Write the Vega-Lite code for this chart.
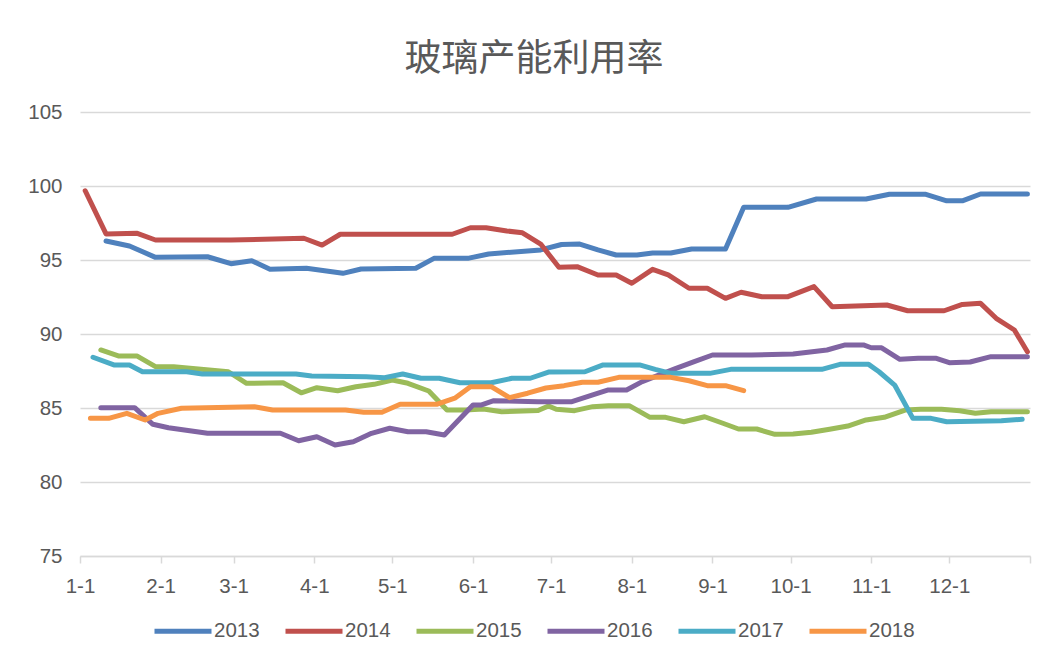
{
  "$schema": "https://vega.github.io/schema/vega-lite/v6.json",
  "width": 950,
  "height": 444,
  "autosize": "none",
  "padding": {"left": 80, "top": 112, "right": 23, "bottom": 107},
  "background": "white",
  "title": {
    "text": "玻璃产能利用率",
    "font": "Noto Sans CJK SC",
    "fontSize": 37,
    "fontWeight": "normal",
    "color": "#595959",
    "anchor": "middle",
    "dx": -21,
    "offset": 23
  },
  "config": {
    "view": {"stroke": null},
    "axis": {
      "labelFont": "Liberation Sans",
      "labelFontSize": 20.5,
      "labelColor": "#595959"
    },
    "legend": {
      "labelFont": "Liberation Sans",
      "labelFontSize": 20.5,
      "labelColor": "#595959"
    }
  },
  "data": {
    "values": [
      {"s":"2013","d":"2001/01/11","v":96.28},
      {"s":"2013","d":"2001/01/20","v":95.95},
      {"s":"2013","d":"2001/01/30","v":95.18},
      {"s":"2013","d":"2001/02/19","v":95.22},
      {"s":"2013","d":"2001/02/28","v":94.75},
      {"s":"2013","d":"2001/03/08","v":94.95},
      {"s":"2013","d":"2001/03/15","v":94.37},
      {"s":"2013","d":"2001/03/29","v":94.44},
      {"s":"2013","d":"2001/04/12","v":94.10},
      {"s":"2013","d":"2001/04/19","v":94.39},
      {"s":"2013","d":"2001/05/10","v":94.44},
      {"s":"2013","d":"2001/05/17","v":95.11},
      {"s":"2013","d":"2001/05/30","v":95.11},
      {"s":"2013","d":"2001/06/07","v":95.41},
      {"s":"2013","d":"2001/06/27","v":95.68},
      {"s":"2013","d":"2001/07/05","v":96.05},
      {"s":"2013","d":"2001/07/12","v":96.08},
      {"s":"2013","d":"2001/07/19","v":95.68},
      {"s":"2013","d":"2001/07/26","v":95.34},
      {"s":"2013","d":"2001/08/03","v":95.34},
      {"s":"2013","d":"2001/08/09","v":95.47},
      {"s":"2013","d":"2001/08/16","v":95.47},
      {"s":"2013","d":"2001/08/24","v":95.74},
      {"s":"2013","d":"2001/09/06","v":95.74},
      {"s":"2013","d":"2001/09/13","v":98.56},
      {"s":"2013","d":"2001/09/30","v":98.56},
      {"s":"2013","d":"2001/10/11","v":99.12},
      {"s":"2013","d":"2001/10/30","v":99.12},
      {"s":"2013","d":"2001/11/08","v":99.44},
      {"s":"2013","d":"2001/11/22","v":99.44},
      {"s":"2013","d":"2001/11/30","v":99.0},
      {"s":"2013","d":"2001/12/06","v":99.0},
      {"s":"2013","d":"2001/12/13","v":99.46},
      {"s":"2013","d":"2001/12/31","v":99.46},

      {"s":"2014","d":"2001/01/03","v":99.68},
      {"s":"2014","d":"2001/01/11","v":96.76},
      {"s":"2014","d":"2001/01/23","v":96.80},
      {"s":"2014","d":"2001/01/30","v":96.35},
      {"s":"2014","d":"2001/02/28","v":96.35},
      {"s":"2014","d":"2001/03/28","v":96.47},
      {"s":"2014","d":"2001/04/04","v":96.01},
      {"s":"2014","d":"2001/04/11","v":96.74},
      {"s":"2014","d":"2001/05/24","v":96.74},
      {"s":"2014","d":"2001/05/31","v":97.18},
      {"s":"2014","d":"2001/06/06","v":97.18},
      {"s":"2014","d":"2001/06/14","v":96.96},
      {"s":"2014","d":"2001/06/20","v":96.84},
      {"s":"2014","d":"2001/06/27","v":96.08},
      {"s":"2014","d":"2001/07/04","v":94.51},
      {"s":"2014","d":"2001/07/11","v":94.55},
      {"s":"2014","d":"2001/07/19","v":93.99},
      {"s":"2014","d":"2001/07/26","v":93.99},
      {"s":"2014","d":"2001/08/01","v":93.43},
      {"s":"2014","d":"2001/08/09","v":94.37},
      {"s":"2014","d":"2001/08/15","v":93.99},
      {"s":"2014","d":"2001/08/23","v":93.09},
      {"s":"2014","d":"2001/08/30","v":93.09},
      {"s":"2014","d":"2001/09/06","v":92.41},
      {"s":"2014","d":"2001/09/12","v":92.82},
      {"s":"2014","d":"2001/09/20","v":92.52},
      {"s":"2014","d":"2001/09/30","v":92.52},
      {"s":"2014","d":"2001/10/10","v":93.20},
      {"s":"2014","d":"2001/10/17","v":91.84},
      {"s":"2014","d":"2001/11/07","v":91.96},
      {"s":"2014","d":"2001/11/15","v":91.57},
      {"s":"2014","d":"2001/11/29","v":91.57},
      {"s":"2014","d":"2001/12/06","v":92.0},
      {"s":"2014","d":"2001/12/13","v":92.07},
      {"s":"2014","d":"2001/12/19","v":91.06},
      {"s":"2014","d":"2001/12/26","v":90.27},
      {"s":"2014","d":"2001/12/31","v":88.8},

      {"s":"2015","d":"2001/01/09","v":88.92},
      {"s":"2015","d":"2001/01/16","v":88.51},
      {"s":"2015","d":"2001/01/23","v":88.51},
      {"s":"2015","d":"2001/01/30","v":87.79},
      {"s":"2015","d":"2001/02/06","v":87.79},
      {"s":"2015","d":"2001/02/27","v":87.45},
      {"s":"2015","d":"2001/03/06","v":86.67},
      {"s":"2015","d":"2001/03/20","v":86.71},
      {"s":"2015","d":"2001/03/27","v":86.03},
      {"s":"2015","d":"2001/04/02","v":86.37},
      {"s":"2015","d":"2001/04/10","v":86.17},
      {"s":"2015","d":"2001/04/17","v":86.44},
      {"s":"2015","d":"2001/04/24","v":86.60},
      {"s":"2015","d":"2001/05/01","v":86.89},
      {"s":"2015","d":"2001/05/07","v":86.67},
      {"s":"2015","d":"2001/05/15","v":86.15},
      {"s":"2015","d":"2001/05/22","v":84.86},
      {"s":"2015","d":"2001/05/29","v":84.86},
      {"s":"2015","d":"2001/06/05","v":84.93},
      {"s":"2015","d":"2001/06/12","v":84.75},
      {"s":"2015","d":"2001/06/26","v":84.83},
      {"s":"2015","d":"2001/06/30","v":85.14},
      {"s":"2015","d":"2001/07/03","v":84.91},
      {"s":"2015","d":"2001/07/10","v":84.82},
      {"s":"2015","d":"2001/07/17","v":85.09},
      {"s":"2015","d":"2001/07/23","v":85.16},
      {"s":"2015","d":"2001/07/31","v":85.16},
      {"s":"2015","d":"2001/08/08","v":84.37},
      {"s":"2015","d":"2001/08/14","v":84.37},
      {"s":"2015","d":"2001/08/21","v":84.07},
      {"s":"2015","d":"2001/08/29","v":84.41},
      {"s":"2015","d":"2001/09/05","v":83.97},
      {"s":"2015","d":"2001/09/11","v":83.58},
      {"s":"2015","d":"2001/09/18","v":83.58},
      {"s":"2015","d":"2001/09/25","v":83.22},
      {"s":"2015","d":"2001/10/02","v":83.24},
      {"s":"2015","d":"2001/10/09","v":83.36},
      {"s":"2015","d":"2001/10/16","v":83.56},
      {"s":"2015","d":"2001/10/23","v":83.78},
      {"s":"2015","d":"2001/10/30","v":84.19},
      {"s":"2015","d":"2001/11/06","v":84.37},
      {"s":"2015","d":"2001/11/14","v":84.86},
      {"s":"2015","d":"2001/11/20","v":84.91},
      {"s":"2015","d":"2001/11/28","v":84.91},
      {"s":"2015","d":"2001/12/05","v":84.82},
      {"s":"2015","d":"2001/12/11","v":84.64},
      {"s":"2015","d":"2001/12/17","v":84.75},
      {"s":"2015","d":"2001/12/31","v":84.75},

      {"s":"2016","d":"2001/01/09","v":85.02},
      {"s":"2016","d":"2001/01/22","v":85.02},
      {"s":"2016","d":"2001/01/29","v":83.90},
      {"s":"2016","d":"2001/02/04","v":83.67},
      {"s":"2016","d":"2001/02/19","v":83.29},
      {"s":"2016","d":"2001/03/19","v":83.29},
      {"s":"2016","d":"2001/03/26","v":82.79},
      {"s":"2016","d":"2001/04/02","v":83.06},
      {"s":"2016","d":"2001/04/09","v":82.50},
      {"s":"2016","d":"2001/04/16","v":82.72},
      {"s":"2016","d":"2001/04/23","v":83.29},
      {"s":"2016","d":"2001/04/30","v":83.63},
      {"s":"2016","d":"2001/05/07","v":83.40},
      {"s":"2016","d":"2001/05/14","v":83.40},
      {"s":"2016","d":"2001/05/21","v":83.18},
      {"s":"2016","d":"2001/06/01","v":85.20},
      {"s":"2016","d":"2001/06/04","v":85.20},
      {"s":"2016","d":"2001/06/09","v":85.49},
      {"s":"2016","d":"2001/06/26","v":85.43},
      {"s":"2016","d":"2001/07/09","v":85.43},
      {"s":"2016","d":"2001/07/17","v":85.88},
      {"s":"2016","d":"2001/07/23","v":86.22},
      {"s":"2016","d":"2001/07/30","v":86.22},
      {"s":"2016","d":"2001/08/05","v":86.78},
      {"s":"2016","d":"2001/08/18","v":87.68},
      {"s":"2016","d":"2001/08/25","v":88.13},
      {"s":"2016","d":"2001/09/01","v":88.58},
      {"s":"2016","d":"2001/09/16","v":88.58},
      {"s":"2016","d":"2001/10/02","v":88.65},
      {"s":"2016","d":"2001/10/15","v":88.92},
      {"s":"2016","d":"2001/10/22","v":89.26},
      {"s":"2016","d":"2001/10/29","v":89.26},
      {"s":"2016","d":"2001/11/01","v":89.07},
      {"s":"2016","d":"2001/11/05","v":89.07},
      {"s":"2016","d":"2001/11/12","v":88.29},
      {"s":"2016","d":"2001/11/19","v":88.36},
      {"s":"2016","d":"2001/11/26","v":88.36},
      {"s":"2016","d":"2001/12/01","v":88.06},
      {"s":"2016","d":"2001/12/09","v":88.11},
      {"s":"2016","d":"2001/12/17","v":88.47},
      {"s":"2016","d":"2001/12/31","v":88.47},

      {"s":"2017","d":"2001/01/06","v":88.43},
      {"s":"2017","d":"2001/01/14","v":87.91},
      {"s":"2017","d":"2001/01/20","v":87.91},
      {"s":"2017","d":"2001/01/25","v":87.45},
      {"s":"2017","d":"2001/02/11","v":87.45},
      {"s":"2017","d":"2001/02/17","v":87.30},
      {"s":"2017","d":"2001/03/25","v":87.30},
      {"s":"2017","d":"2001/03/31","v":87.16},
      {"s":"2017","d":"2001/04/21","v":87.11},
      {"s":"2017","d":"2001/04/28","v":87.05},
      {"s":"2017","d":"2001/05/05","v":87.30},
      {"s":"2017","d":"2001/05/12","v":87.01},
      {"s":"2017","d":"2001/05/19","v":87.01},
      {"s":"2017","d":"2001/05/27","v":86.71},
      {"s":"2017","d":"2001/06/08","v":86.71},
      {"s":"2017","d":"2001/06/16","v":87.01},
      {"s":"2017","d":"2001/06/23","v":87.01},
      {"s":"2017","d":"2001/06/30","v":87.43},
      {"s":"2017","d":"2001/07/14","v":87.45},
      {"s":"2017","d":"2001/07/21","v":87.91},
      {"s":"2017","d":"2001/08/04","v":87.91},
      {"s":"2017","d":"2001/08/10","v":87.61},
      {"s":"2017","d":"2001/08/16","v":87.34},
      {"s":"2017","d":"2001/08/31","v":87.34},
      {"s":"2017","d":"2001/09/08","v":87.61},
      {"s":"2017","d":"2001/10/13","v":87.61},
      {"s":"2017","d":"2001/10/20","v":87.95},
      {"s":"2017","d":"2001/10/31","v":87.95},
      {"s":"2017","d":"2001/11/04","v":87.45},
      {"s":"2017","d":"2001/11/10","v":86.55},
      {"s":"2017","d":"2001/11/17","v":84.30},
      {"s":"2017","d":"2001/11/24","v":84.30},
      {"s":"2017","d":"2001/11/30","v":84.07},
      {"s":"2017","d":"2001/12/21","v":84.14},
      {"s":"2017","d":"2001/12/29","v":84.24},

      {"s":"2018","d":"2001/01/05","v":84.30},
      {"s":"2018","d":"2001/01/12","v":84.30},
      {"s":"2018","d":"2001/01/19","v":84.64},
      {"s":"2018","d":"2001/01/26","v":84.19},
      {"s":"2018","d":"2001/01/31","v":84.64},
      {"s":"2018","d":"2001/02/09","v":84.98},
      {"s":"2018","d":"2001/03/09","v":85.09},
      {"s":"2018","d":"2001/03/16","v":84.86},
      {"s":"2018","d":"2001/04/13","v":84.86},
      {"s":"2018","d":"2001/04/20","v":84.71},
      {"s":"2018","d":"2001/04/27","v":84.71},
      {"s":"2018","d":"2001/05/04","v":85.25},
      {"s":"2018","d":"2001/05/18","v":85.25},
      {"s":"2018","d":"2001/05/25","v":85.66},
      {"s":"2018","d":"2001/05/31","v":86.44},
      {"s":"2018","d":"2001/06/08","v":86.44},
      {"s":"2018","d":"2001/06/15","v":85.70},
      {"s":"2018","d":"2001/06/22","v":86.0},
      {"s":"2018","d":"2001/06/29","v":86.35},
      {"s":"2018","d":"2001/07/06","v":86.51},
      {"s":"2018","d":"2001/07/13","v":86.74},
      {"s":"2018","d":"2001/07/19","v":86.74},
      {"s":"2018","d":"2001/07/27","v":87.07},
      {"s":"2018","d":"2001/08/16","v":87.07},
      {"s":"2018","d":"2001/08/23","v":86.84},
      {"s":"2018","d":"2001/08/30","v":86.51},
      {"s":"2018","d":"2001/09/06","v":86.51},
      {"s":"2018","d":"2001/09/13","v":86.17}
    ]
  },
  "mark": {"type": "line", "strokeWidth": 5, "strokeCap": "round", "strokeJoin": "round"},
  "encoding": {
    "x": {
      "field": "d",
      "type": "temporal",
      "scale": {"domain": [{"year": 2001, "month": 1, "date": 1}, {"year": 2002, "month": 1, "date": 1}]},
      "axis": {
        "title": null,
        "grid": false,
        "values": [
          {"year": 2001, "month": 1, "date": 1},
          {"year": 2001, "month": 2, "date": 1},
          {"year": 2001, "month": 3, "date": 1},
          {"year": 2001, "month": 4, "date": 1},
          {"year": 2001, "month": 5, "date": 1},
          {"year": 2001, "month": 6, "date": 1},
          {"year": 2001, "month": 7, "date": 1},
          {"year": 2001, "month": 8, "date": 1},
          {"year": 2001, "month": 9, "date": 1},
          {"year": 2001, "month": 10, "date": 1},
          {"year": 2001, "month": 11, "date": 1},
          {"year": 2001, "month": 12, "date": 1},
          {"year": 2002, "month": 1, "date": 1}
        ],
        "format": "%-m-%-d",
        "labelExpr": "year(datum.value) > 2001 ? '' : datum.label",
        "domainColor": "#d9d9d9",
        "domainWidth": 1.5,
        "tickColor": "#d9d9d9",
        "tickWidth": 1.5,
        "tickSize": 7,
        "labelPadding": 13,
        "labelOverlap": false,
        "labelFlush": false
      }
    },
    "y": {
      "field": "v",
      "type": "quantitative",
      "scale": {"domain": [75, 105], "nice": false, "zero": false},
      "axis": {
        "title": null,
        "values": [75, 80, 85, 90, 95, 100, 105],
        "domain": false,
        "ticks": false,
        "gridColor": "#d9d9d9",
        "gridWidth": 1.5,
        "labelPadding": 18
      }
    },
    "color": {
      "field": "s",
      "type": "nominal",
      "scale": {
        "domain": ["2013", "2014", "2015", "2016", "2017", "2018"],
        "range": ["#4f81bd", "#c0504d", "#9bbb59", "#8064a2", "#4bacc6", "#f79646"]
      },
      "legend": {
        "title": null,
        "orient": "none",
        "direction": "horizontal",
        "legendX": 72,
        "legendY": 488,
        "symbolType": "stroke",
        "symbolSize": 3249,
        "symbolStrokeWidth": 5,
        "labelOffset": 0,
        "columnPadding": 15
      }
    }
  }
}
